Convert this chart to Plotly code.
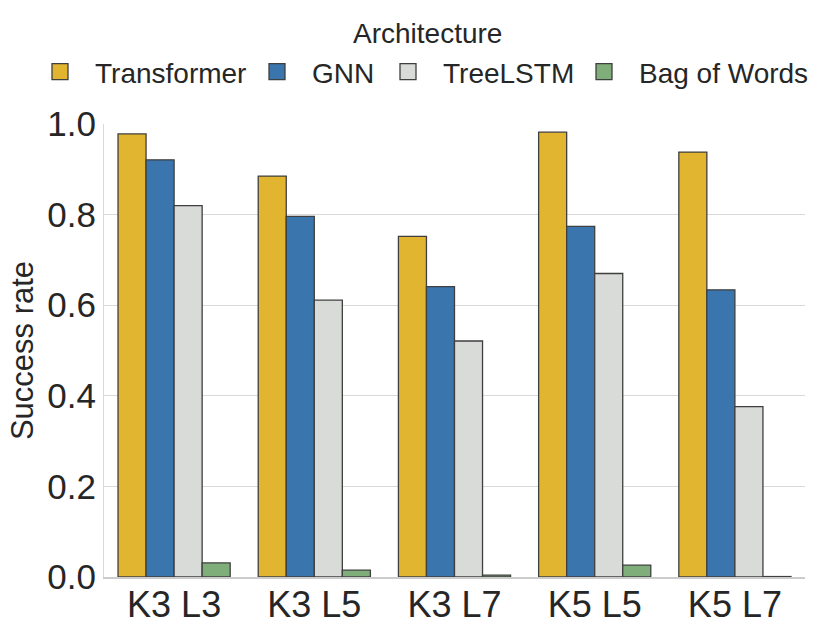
import plotly.graph_objects as go

categories = ["K3 L3", "K3 L5", "K3 L7", "K5 L5", "K5 L7"]
architectures = ["Transformer", "GNN", "TreeLSTM", "Bag of Words"]
transformer = [0.978, 0.885, 0.752, 0.982, 0.938]
gnn = [0.921, 0.796, 0.641, 0.774, 0.634]
treelstm = [0.820, 0.611, 0.521, 0.670, 0.376]
bag_of_words = [0.031, 0.015, 0.004, 0.026, 0.001]
series = [transformer, gnn, treelstm, bag_of_words]
colors = ["#E1B530", "#3A75AE", "#D9DBD9", "#7FAE7A"]

FONT = "Arial, Liberation Sans, sans-serif"
TXT = "#262626"
EDGE = "#3f3f3f"

W, H = 831, 630
ML, MR, MT, MB = 104, 26, 124, 53
legend_names = ["legend", "legend2", "legend3", "legend4"]
legend_square_px = [65, 282, 413, 609]  # legend entry anchors (px)

fig = go.Figure()
for name, vals, col in zip(architectures, series, colors):
    fig.add_trace(go.Bar(
        x=categories, y=vals, name=name, showlegend=False,
        marker=dict(color=col, line=dict(color=EDGE, width=1.3)),
    ))
# legend entries with larger square swatches, one legend per entry
for name, col, lg in zip(architectures, colors, legend_names):
    fig.add_trace(go.Scatter(
        x=[None], y=[None], mode="markers", name=name, legend=lg,
        marker=dict(symbol="square", size=25, color=col, line=dict(color=EDGE, width=1.3)),
    ))

legend_common = dict(
    orientation="h", xref="container", yref="container", xanchor="left",
    yanchor="middle", y=1 - 72 / H, bgcolor="rgba(0,0,0,0)",
    font=dict(size=28, family=FONT, color=TXT),
    itemsizing="trace", itemwidth=60,
)
legend_layout = {}
for lg, cx in zip(legend_names, legend_square_px):
    legend_layout[lg] = dict(legend_common, x=(cx - 40) / W)

fig.update_layout(
    width=W, height=H,
    barmode="group", bargap=0.2, bargroupgap=0,
    plot_bgcolor="white", paper_bgcolor="white",
    font=dict(family=FONT, color=TXT),
    margin=dict(l=ML, r=MR, t=MT, b=MB, autoexpand=False),
    showlegend=True,
    **legend_layout,
    annotations=[dict(
        text="Architecture", showarrow=False,
        xref="paper", yref="paper", x=(427 - ML) / (W - ML - MR),
        y=(H - MB - 33) / (H - MT - MB), xanchor="center", yanchor="middle",
        font=dict(size=28, family=FONT, color=TXT),
    )],
    xaxis=dict(
        automargin=False,
        tickfont=dict(size=36, family=FONT, color=TXT),
        ticklabelstandoff=-5,
        showline=True, linecolor="#cccccc", linewidth=1.5,
        showgrid=False, ticks="",
    ),
    yaxis=dict(
        automargin=False,
        title=dict(text="Success rate", font=dict(size=31, family=FONT, color=TXT), standoff=4),
        range=[0, 1.0], dtick=0.2, tickformat=".1f",
        tickfont=dict(size=35, family=FONT, color=TXT),
        showgrid=True, gridcolor="#d9d9d9", gridwidth=1.2,
        showline=True, linecolor="#d9d9d9", linewidth=1.2,
        zeroline=False, ticks="",
    ),
)

fig.write_html(
    "out.html",
    config={"displayModeBar": False},
    post_script="document.body.style.margin='0';document.body.style.padding='0';",
)
